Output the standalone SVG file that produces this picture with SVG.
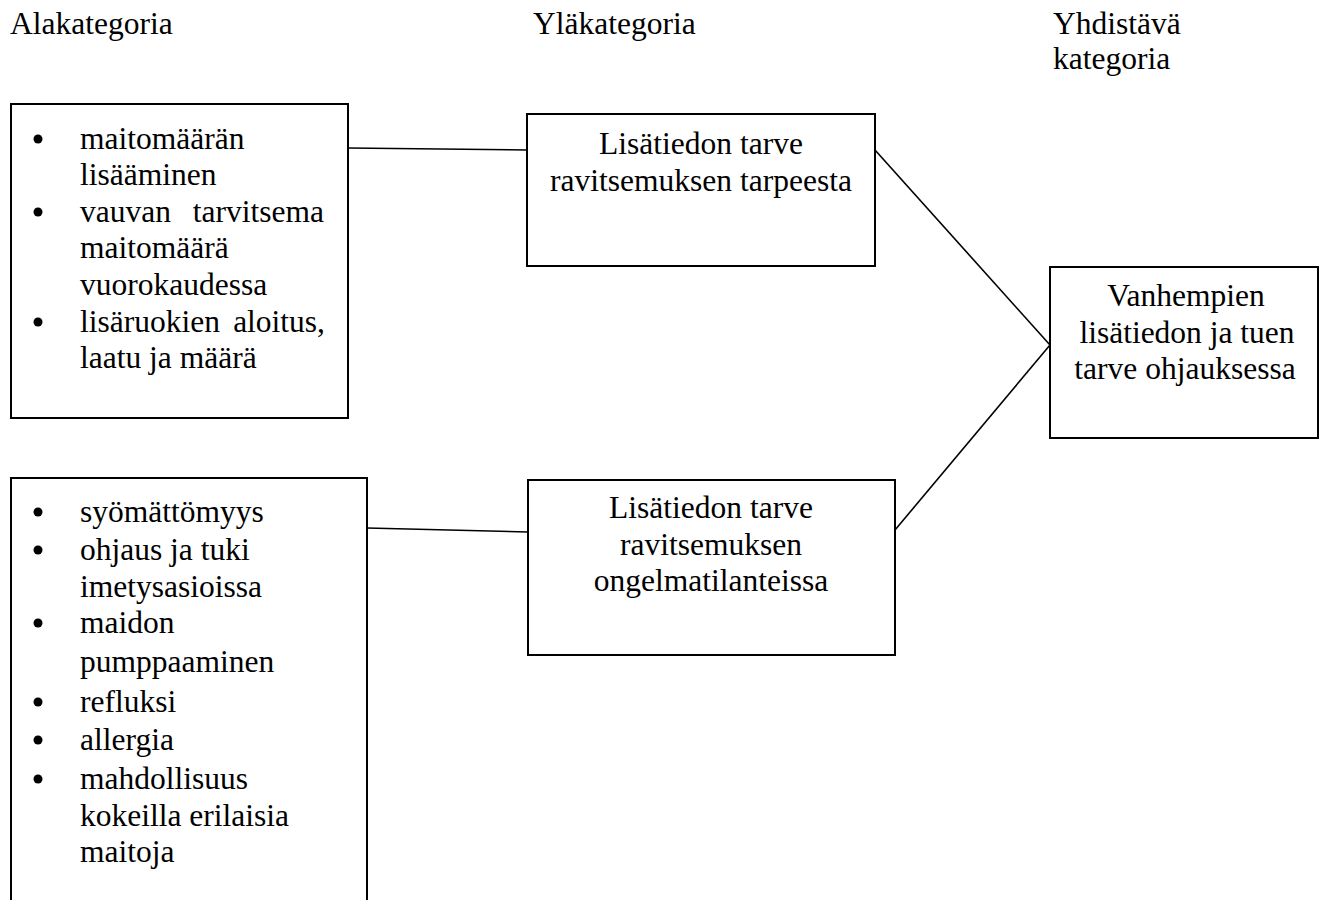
<svg xmlns="http://www.w3.org/2000/svg" width="1326" height="900" viewBox="0 0 1326 900">
<style>
text{font-family:"Liberation Serif","Times New Roman",serif;font-size:31.5px;fill:#000}
.c{text-anchor:middle}
.e{text-anchor:end}
.box{fill:#fff;stroke:#000;stroke-width:2}
.conn{stroke:#000;stroke-width:1.6;fill:none}
.b{fill:#000}
</style>
<rect width="1326" height="900" fill="#fff"/>
<g id="headers">
<text x="10" y="34">Alakategoria</text>
<text x="533" y="34">Yläkategoria</text>
<text x="1053" y="34">Yhdistävä</text>
<text x="1053" y="69">kategoria</text>
</g>
<g id="connectors">
<line class="conn" x1="348" y1="148" x2="527" y2="150"/>
<line class="conn" x1="367" y1="528" x2="528" y2="532"/>
<line class="conn" x1="875" y1="150" x2="1050" y2="345"/>
<line class="conn" x1="895" y1="530" x2="1050" y2="345"/>
</g>
<g id="sub1">
<rect class="box" x="11" y="104" width="337" height="314"/>
<circle class="b" cx="38" cy="139" r="4.5"/>
<text x="80" y="149">maitomäärän</text>
<text x="80" y="185">lisääminen</text>
<circle class="b" cx="38" cy="212" r="4.5"/>
<text x="80" y="222">vauvan</text>
<text class="e" x="324" y="222">tarvitsema</text>
<text x="80" y="258">maitomäärä</text>
<text x="80" y="295">vuorokaudessa</text>
<circle class="b" cx="38" cy="322" r="4.5"/>
<text x="80" y="332">lisäruokien</text>
<text class="e" x="325" y="332">aloitus,</text>
<text x="80" y="368">laatu ja määrä</text>
</g>
<g id="sub2">
<rect class="box" x="11" y="478" width="356" height="440"/>
<circle class="b" cx="38" cy="512" r="4.5"/>
<text x="80" y="522">syömättömyys</text>
<circle class="b" cx="38" cy="550" r="4.5"/>
<text x="80" y="560">ohjaus ja tuki</text>
<text x="80" y="597">imetysasioissa</text>
<circle class="b" cx="38" cy="623" r="4.5"/>
<text x="80" y="633">maidon</text>
<text x="80" y="672">pumppaaminen</text>
<circle class="b" cx="38" cy="702" r="4.5"/>
<text x="80" y="712">refluksi</text>
<circle class="b" cx="38" cy="740" r="4.5"/>
<text x="80" y="750">allergia</text>
<circle class="b" cx="38" cy="779" r="4.5"/>
<text x="80" y="789">mahdollisuus</text>
<text x="80" y="826">kokeilla erilaisia</text>
<text x="80" y="862">maitoja</text>
</g>
<g id="upper1">
<rect class="box" x="527" y="114" width="348" height="152"/>
<text class="c" x="701" y="154">Lisätiedon tarve</text>
<text class="c" x="701" y="191">ravitsemuksen tarpeesta</text>
</g>
<g id="upper2">
<rect class="box" x="528" y="480" width="367" height="175"/>
<text class="c" x="711" y="518">Lisätiedon tarve</text>
<text class="c" x="711" y="555">ravitsemuksen</text>
<text class="c" x="711" y="591">ongelmatilanteissa</text>
</g>
<g id="combined">
<rect class="box" x="1050" y="267" width="268" height="171"/>
<text class="c" x="1186" y="306">Vanhempien</text>
<text class="c" x="1187" y="343">lisätiedon ja tuen</text>
<text class="c" x="1185" y="379">tarve ohjauksessa</text>
</g>
</svg>
